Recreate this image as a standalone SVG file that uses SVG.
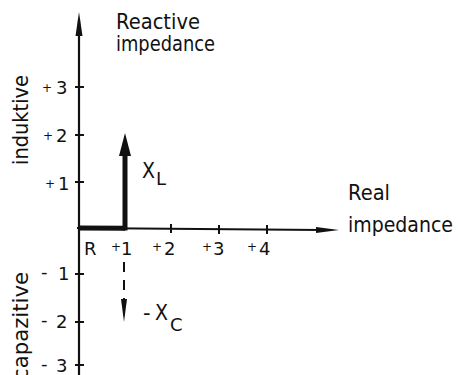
<svg xmlns="http://www.w3.org/2000/svg" width="458" height="375" viewBox="0 0 458 375">
<style>
.t{font-family:"DejaVu Sans","Liberation Sans",sans-serif;font-size:21px;fill:#111}
.d{font-family:"DejaVu Sans","Liberation Sans",sans-serif;font-size:18px;fill:#111}
.p{font-family:"DejaVu Sans","Liberation Sans",sans-serif;font-size:12px;fill:#111}
.ax{stroke:#111;stroke-width:2.2;fill:none}
.tk{stroke:#111;stroke-width:2;fill:none}
.ah{fill:#111}
</style>
<g id="connectors">
<line class="ax" x1="79" y1="375" x2="79" y2="20"/>
<path class="ah" d="M75.5,36 L79,12 L82.5,36 Z"/>
<line class="ax" x1="77" y1="228" x2="322" y2="230"/>
<path class="ah" d="M316,227 L339,230 L316,233 Z"/>
<line x1="79" y1="228" x2="125" y2="228.3" stroke="#111" stroke-width="5"/>
<line x1="125" y1="230.5" x2="125" y2="150" stroke="#111" stroke-width="5"/>
<path class="ah" d="M119,156 L125,133 L131,156 Z"/>
<line x1="124" y1="262" x2="124" y2="302" stroke="#111" stroke-width="2" stroke-dasharray="10,8"/>
<path class="ah" d="M121,299 L124,322 L127,299 Z"/>
</g>
<g id="ticks">
<line class="tk" x1="75" y1="87" x2="84" y2="87"/>
<line class="tk" x1="75" y1="135" x2="84" y2="135"/>
<line class="tk" x1="75" y1="182" x2="84" y2="182"/>
<line class="tk" x1="75" y1="274" x2="84" y2="274"/>
<line class="tk" x1="75" y1="322" x2="84" y2="322"/>
<line class="tk" x1="75" y1="365" x2="84" y2="365"/>
<line class="tk" x1="171" y1="224" x2="171" y2="233"/>
<line class="tk" x1="219" y1="225" x2="219" y2="234"/>
<line class="tk" x1="267" y1="225" x2="267" y2="234"/>
</g>
<g id="vertical-axis-label">
<text class="t" x="116" y="29" textLength="84" lengthAdjust="spacingAndGlyphs">Reactive</text>
<text class="t" x="116" y="51" textLength="99" lengthAdjust="spacingAndGlyphs">impedance</text>
</g>
<g id="horizontal-axis-label">
<text class="t" x="348" y="200" textLength="42" lengthAdjust="spacingAndGlyphs">Real</text>
<text class="t" x="348" y="232" textLength="105" lengthAdjust="spacingAndGlyphs">impedance</text>
</g>
<g id="side-labels">
<text class="t" transform="translate(28,165) rotate(-90)" textLength="90" lengthAdjust="spacingAndGlyphs">induktive</text>
<text class="t" transform="translate(28,380) rotate(-90)" textLength="108" lengthAdjust="spacingAndGlyphs">capazitive</text>
</g>
<g id="y-tick-labels">
<text class="p" x="42" y="92">+</text><text class="d" x="56" y="94">3</text>
<text class="p" x="43" y="140">+</text><text class="d" x="56" y="142">2</text>
<text class="p" x="45" y="188">+</text><text class="d" x="58" y="190">1</text>
<text class="d" x="41" y="278">-</text><text class="d" x="58" y="280">1</text>
<text class="d" x="41" y="326">-</text><text class="d" x="56" y="328">2</text>
<text class="d" x="41" y="370">-</text><text class="d" x="56" y="372">3</text>
</g>
<g id="x-tick-labels">
<text class="d" x="84" y="255">R</text>
<text class="p" x="111" y="251">+</text><text class="d" x="121" y="255">1</text>
<text class="p" x="152" y="251">+</text><text class="d" x="164" y="255">2</text>
<text class="p" x="202" y="251">+</text><text class="d" x="213" y="255">3</text>
<text class="p" x="247" y="251">+</text><text class="d" x="259" y="255">4</text>
</g>
<g id="XL">
<text class="t" x="142" y="178" textLength="13" lengthAdjust="spacingAndGlyphs">X</text>
<text class="d" x="156" y="185" font-size="16">L</text>
</g>
<g id="XC">
<text class="t" x="143" y="320">-</text>
<text class="t" x="155" y="320" textLength="13" lengthAdjust="spacingAndGlyphs">X</text>
<text class="d" x="170" y="331" font-size="16">C</text>
</g>
</svg>
